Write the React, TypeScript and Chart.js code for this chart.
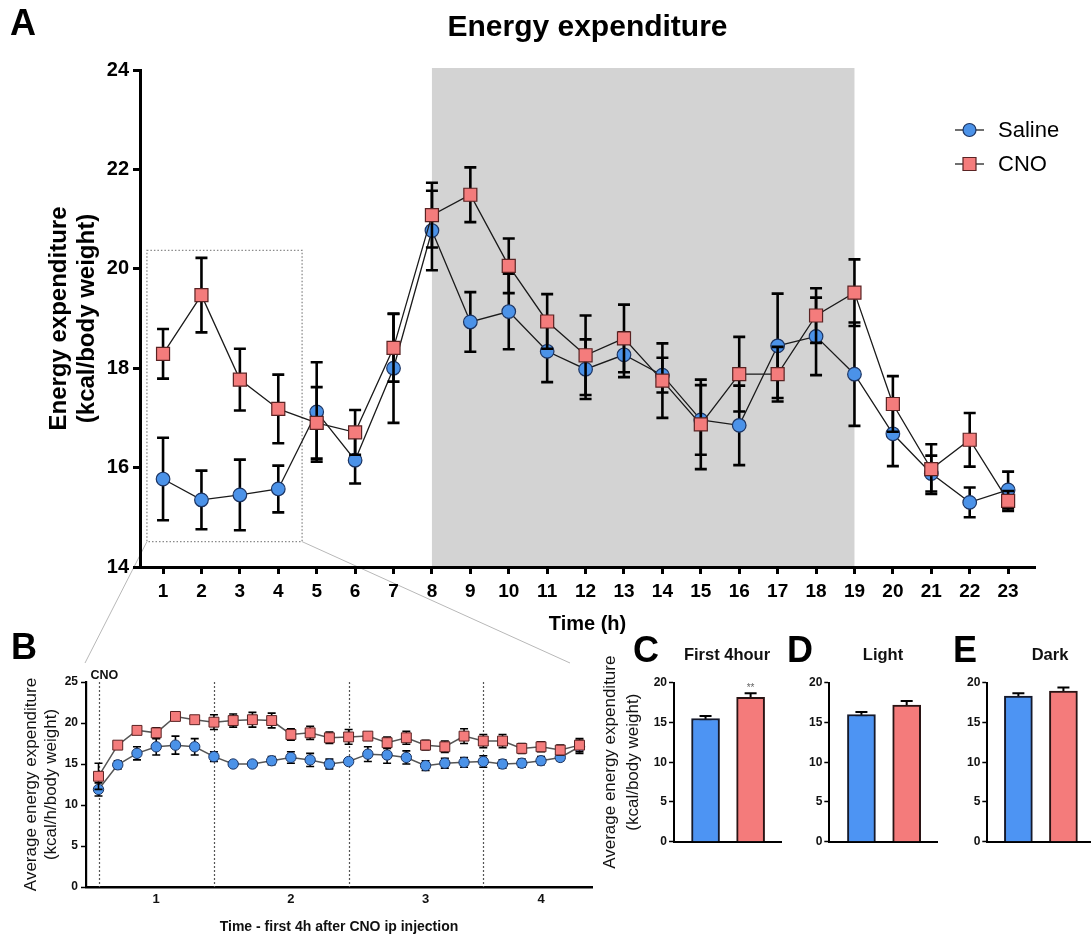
import React, { useEffect, useRef } from 'react';
import { Chart, registerables } from 'chart.js';

Chart.register(...registerables);

const FONT = "'Liberation Sans', Arial, Helvetica, sans-serif";
Chart.defaults.font.family = FONT;
Chart.defaults.color = '#000';

// ---------------- Panel A data ----------------
const hoursA = [1, 2, 3, 4, 5, 6, 7, 8, 9, 10, 11, 12, 13, 14, 15, 16, 17, 18, 19, 20, 21, 22, 23];
const yTicksA = [14, 16, 18, 20, 22, 24];
const salineA = [15.77, 15.35, 15.45, 15.57, 17.12, 16.15, 18.0, 20.77, 18.93, 19.14, 18.34, 17.98, 18.27, 17.86, 16.96, 16.85, 18.45, 18.64, 17.88, 16.68, 15.88, 15.3, 15.55];
const salineErrA = [0.83, 0.59, 0.71, 0.47, 1.0, 0.47, 1.1, 0.8, 0.6, 0.76, 0.62, 0.6, 0.45, 0.35, 0.7, 0.8, 1.05, 0.78, 1.04, 0.65, 0.36, 0.3, 0.37];
const cnoA = [18.29, 19.47, 17.77, 17.18, 16.9, 16.71, 18.41, 21.08, 21.49, 20.06, 18.94, 18.26, 18.6, 17.75, 16.87, 17.88, 17.88, 19.06, 19.52, 17.28, 15.97, 16.56, 15.33];
const cnoErrA = [0.5, 0.75, 0.62, 0.69, 0.72, 0.45, 0.68, 0.65, 0.55, 0.55, 0.55, 0.8, 0.68, 0.75, 0.9, 0.75, 0.55, 0.55, 0.67, 0.56, 0.5, 0.54, 0.2];
const darkPhaseA = [8, 19];
const zoomBoxA = [0.58, 4.62, 14.51, 20.37]; // x from, x to, y from, y to (data units)
const seriesNames = ['Saline', 'CNO'];

// ---------------- Panel B data ----------------
const slotsB = [0, 1, 2, 3, 4, 5, 6, 7, 8, 9, 10, 11, 12, 13, 14, 15, 16, 17, 18, 19, 20, 21, 22, 23, 24, 25];
const salineB = [11.9, 14.9, 16.3, 17.1, 17.3, 17.1, 15.9, 15.0, 15.0, 15.4, 15.8, 15.5, 15.0, 15.3, 16.2, 16.1, 15.8, 14.8, 15.1, 15.2, 15.3, 15.0, 15.1, 15.4, 15.8, 17.1];
const salineErrB = [0.8, 0.5, 0.8, 1.0, 1.1, 1.0, 0.6, 0.2, 0.3, 0.5, 0.7, 0.8, 0.6, 0.3, 0.9, 1.0, 0.8, 0.6, 0.6, 0.6, 0.7, 0.5, 0.5, 0.5, 0.4, 0.8];
const cnoB = [13.5, 17.3, 19.1, 18.8, 20.8, 20.4, 20.1, 20.3, 20.4, 20.3, 18.6, 18.8, 18.2, 18.3, 18.4, 17.6, 18.2, 17.3, 17.1, 18.4, 17.8, 17.8, 16.9, 17.1, 16.7, 17.3];
const cnoErrB = [1.6, 0.3, 0.4, 0.6, 0.2, 0.3, 0.9, 0.8, 0.9, 0.9, 0.7, 0.8, 0.7, 0.9, 0.3, 0.7, 0.8, 0.6, 0.7, 0.9, 0.8, 0.8, 0.6, 0.6, 0.6, 0.8];
const hourTicksB = [3, 10, 17, 23];
const hourLabelsB = ['1', '2', '3', '4'];
const dividersB = [0, 6, 13, 20];
const yTicksB = [0, 5, 10, 15, 20, 25];

// ---------------- Panels C-E data ----------------
const barPanels = ['C', 'D', 'E'];
const barTitles = ['First 4hour', 'Light', 'Dark'];
const barSaline = [15.5, 16.0, 18.32];
const barSalineErr = [0.3, 0.33, 0.34];
const barCno = [18.16, 17.19, 18.95];
const barCnoErr = [0.5, 0.5, 0.46];
const barSig = ['**', '', ''];
const yTicksBar = [0, 5, 10, 15, 20];

// ---------------- styles ----------------
const BLUE = '#4B92E8';
const BLUE_EDGE = '#1c3462';
const RED = '#F47C7C';
const RED_EDGE = '#5a2323';
const BAR_BLUE = '#4D94F3';
const BAR_RED = '#F47B7B';

const errorBarPlugin = {
  id: 'errorBars',
  beforeDatasetDraw(chart: any, args: any) {
    const ds: any = chart.data.datasets[args.index];
    if (!ds.errors) return;
    const meta = args.meta;
    const yScale = chart.scales[meta.yAxisID];
    const ctx = chart.ctx;
    const cap = ds.errCap || 10;
    ctx.save();
    ctx.strokeStyle = ds.errColor || '#000';
    ctx.lineWidth = ds.errWidth || 2;
    ctx.lineCap = 'butt';
    meta.data.forEach((el: any, i: number) => {
      const v = ds.data[i].y;
      const e = ds.errors[i];
      const yt = yScale.getPixelForValue(v + e);
      const yb = yScale.getPixelForValue(v - e);
      const x = el.x;
      ctx.beginPath();
      ctx.moveTo(x, yt);
      ctx.lineTo(x, yb);
      ctx.moveTo(x - cap / 2, yt);
      ctx.lineTo(x + cap / 2, yt);
      ctx.moveTo(x - cap / 2, yb);
      ctx.lineTo(x + cap / 2, yb);
      ctx.stroke();
    });
    ctx.restore();
  },
};

function drawLetter(ctx: any, letter: string, x: number, y: number) {
  ctx.save();
  ctx.font = `bold 36px ${FONT}`;
  ctx.fillStyle = '#000';
  ctx.textAlign = 'left';
  ctx.textBaseline = 'middle';
  ctx.fillText(letter, x, y);
  ctx.restore();
}

function drawMarker(ctx: any, style: string, x: number, y: number, half: number, fill: string, edge: string, lw: number) {
  ctx.save();
  ctx.fillStyle = fill;
  ctx.strokeStyle = edge;
  ctx.lineWidth = lw;
  ctx.beginPath();
  if (style === 'circle') ctx.arc(x, y, half, 0, Math.PI * 2);
  else ctx.rect(x - half, y - half, half * 2, half * 2);
  ctx.fill();
  ctx.stroke();
  ctx.restore();
}

const decorA = {
  id: 'decorA',
  beforeDraw(chart: any) {
    const { ctx, chartArea: ca, scales } = chart;
    const x = scales.x;
    const y = scales.y;
    ctx.save();
    const xs = x.getPixelForValue(darkPhaseA[0]);
    const xe = x.getPixelForValue(darkPhaseA[1]);
    ctx.fillStyle = '#d3d3d3';
    ctx.fillRect(xs, ca.top - 2, xe - xs, ca.bottom - ca.top + 2);
    const bx0 = x.getPixelForValue(zoomBoxA[0]);
    const bx1 = x.getPixelForValue(zoomBoxA[1]);
    const by0 = y.getPixelForValue(zoomBoxA[2]);
    const by1 = y.getPixelForValue(zoomBoxA[3]);
    ctx.strokeStyle = '#8a8a8a';
    ctx.lineWidth = 1.3;
    ctx.setLineDash([1.5, 2]);
    ctx.strokeRect(bx0, by1, bx1 - bx0, by0 - by1);
    ctx.setLineDash([]);
    ctx.strokeStyle = '#b8b8b8';
    ctx.lineWidth = 1;
    ctx.beginPath();
    ctx.moveTo(bx0, by0);
    ctx.lineTo(85, 663);
    ctx.moveTo(bx1, by0);
    ctx.lineTo(570, 663);
    ctx.stroke();
    ctx.restore();
  },
  afterDraw(chart: any) {
    const { ctx, chartArea: ca } = chart;
    drawLetter(ctx, 'A', 10, 25);
    ctx.save();
    ctx.font = `bold 30px ${FONT}`;
    ctx.fillStyle = '#000';
    ctx.textAlign = 'center';
    ctx.textBaseline = 'middle';
    ctx.fillText('Energy expenditure', (ca.left + ca.right) / 2, 28);
    // legend
    const entries = [
      { name: seriesNames[0], style: 'circle', fill: BLUE, edge: BLUE_EDGE, half: 6.5, y: 130 },
      { name: seriesNames[1], style: 'rect', fill: RED, edge: RED_EDGE, half: 6.5, y: 164 },
    ];
    entries.forEach((e) => {
      ctx.strokeStyle = '#222';
      ctx.lineWidth = 1.3;
      ctx.beginPath();
      ctx.moveTo(955, e.y);
      ctx.lineTo(984, e.y);
      ctx.stroke();
      drawMarker(ctx, e.style, 969.5, e.y, e.half, e.fill, e.edge, 1.2);
      ctx.font = `22px ${FONT}`;
      ctx.fillStyle = '#000';
      ctx.textAlign = 'left';
      ctx.textBaseline = 'middle';
      ctx.fillText(e.name, 998, e.y + 1);
    });
    ctx.restore();
  },
};

function makeA(): any {
  return {
    type: 'line',
    data: {
      datasets: [
        {
          label: seriesNames[1],
          data: hoursA.map((h, i) => ({ x: h, y: cnoA[i] })),
          errors: cnoErrA,
          errWidth: 2.6,
          errCap: 12,
          order: 1,
          borderColor: '#1a1a1a',
          borderWidth: 1.3,
          pointStyle: 'rect',
          pointRadius: 9.2,
          pointBackgroundColor: RED,
          pointBorderColor: RED_EDGE,
          pointBorderWidth: 1.2,
        },
        {
          label: seriesNames[0],
          data: hoursA.map((h, i) => ({ x: h, y: salineA[i] })),
          errors: salineErrA,
          errWidth: 2.6,
          errCap: 12,
          order: 2,
          borderColor: '#1a1a1a',
          borderWidth: 1.3,
          pointStyle: 'circle',
          pointRadius: 6.8,
          pointBackgroundColor: BLUE,
          pointBorderColor: BLUE_EDGE,
          pointBorderWidth: 1.2,
        },
      ],
    },
    options: {
      responsive: false,
      animation: false,
      layout: { padding: { left: 0, top: 70, right: 56, bottom: 43 } },
      plugins: { legend: { display: false }, tooltip: { enabled: false } },
      scales: {
        x: {
          type: 'linear',
          min: 0.4,
          max: 23.7,
          afterBuildTicks: (s: any) => {
            s.ticks = hoursA.map((v) => ({ value: v }));
          },
          afterFit: (s: any) => {
            s.height = 70;
          },
          grid: { display: true, drawOnChartArea: false, drawTicks: true, tickLength: 7, tickWidth: 3, tickColor: '#000' },
          border: { display: true, color: '#000', width: 3 },
          ticks: { font: { size: 19, weight: 'bold' }, color: '#000', padding: 6, maxRotation: 0, autoSkip: false },
          title: { display: true, text: 'Time (h)', font: { size: 20, weight: 'bold' }, color: '#000', padding: { top: 0, bottom: 1 } },
        },
        y: {
          type: 'linear',
          min: 14,
          max: 24,
          afterBuildTicks: (s: any) => {
            s.ticks = yTicksA.map((v) => ({ value: v }));
          },
          afterFit: (s: any) => {
            s.width = 140;
          },
          grid: { display: true, drawOnChartArea: false, drawTicks: true, tickLength: 7, tickWidth: 3, tickColor: '#000' },
          border: { display: true, color: '#000', width: 3 },
          ticks: { font: { size: 20, weight: 'bold' }, color: '#000', padding: 4 },
          title: {
            display: true,
            text: ['Energy expenditure', '(kcal/body weight)'],
            font: { size: 24, weight: 'bold', lineHeight: 1.15 },
            color: '#000',
            padding: { top: 46, bottom: 0 },
          },
        },
      },
    },
    plugins: [errorBarPlugin, decorA],
  };
}

const decorB = {
  id: 'decorB',
  beforeDatasetsDraw(chart: any) {
    const { ctx, chartArea: ca, scales } = chart;
    const x = scales.x;
    ctx.save();
    ctx.strokeStyle = '#555';
    ctx.lineWidth = 1.2;
    ctx.setLineDash([2, 2]);
    dividersB.forEach((d) => {
      const px = Math.round(x.getPixelForValue(d)) + 0.5;
      ctx.beginPath();
      ctx.moveTo(px, ca.top);
      ctx.lineTo(px, ca.bottom);
      ctx.stroke();
    });
    ctx.restore();
  },
  afterDraw(chart: any) {
    const { ctx, chartArea: ca, scales } = chart;
    drawLetter(ctx, 'B', 11, 19);
    ctx.save();
    ctx.font = `bold 12.5px ${FONT}`;
    ctx.fillStyle = '#111';
    ctx.textAlign = 'left';
    ctx.textBaseline = 'middle';
    ctx.fillText('CNO', scales.x.getPixelForValue(dividersB[0]) - 8, ca.top - 6);
    ctx.restore();
  },
};

function makeB(): any {
  return {
    type: 'line',
    data: {
      datasets: [
        {
          label: seriesNames[1],
          data: slotsB.map((s, i) => ({ x: s, y: cnoB[i] })),
          errors: cnoErrB,
          errWidth: 1.6,
          errCap: 8,
          order: 1,
          borderColor: '#555',
          borderWidth: 1.5,
          pointStyle: 'rect',
          pointRadius: 7,
          pointBackgroundColor: RED,
          pointBorderColor: RED_EDGE,
          pointBorderWidth: 1,
        },
        {
          label: seriesNames[0],
          data: slotsB.map((s, i) => ({ x: s, y: salineB[i] })),
          errors: salineErrB,
          errWidth: 1.6,
          errCap: 8,
          order: 2,
          borderColor: '#555',
          borderWidth: 1.5,
          pointStyle: 'circle',
          pointRadius: 5.2,
          pointBackgroundColor: BLUE,
          pointBorderColor: BLUE_EDGE,
          pointBorderWidth: 1,
        },
      ],
    },
    options: {
      responsive: false,
      animation: false,
      layout: { padding: { left: 0, top: 52, right: 7, bottom: 0 } },
      plugins: { legend: { display: false }, tooltip: { enabled: false } },
      scales: {
        x: {
          type: 'linear',
          min: -0.65,
          max: 25.65,
          afterBuildTicks: (s: any) => {
            s.ticks = hourTicksB.map((v) => ({ value: v }));
          },
          afterFit: (s: any) => {
            s.height = 49;
          },
          grid: { display: false, drawTicks: false },
          border: { display: true, color: '#000', width: 2.4 },
          ticks: {
            font: { size: 13, weight: 'bold' },
            color: '#111',
            padding: 5,
            maxRotation: 0,
            autoSkip: false,
            callback: (v: any) => hourLabelsB[hourTicksB.indexOf(v)],
          },
          title: {
            display: true,
            text: 'Time - first 4h after CNO ip injection',
            font: { size: 14, weight: 'bold' },
            color: '#111',
            padding: { top: 0, bottom: 0 },
          },
        },
        y: {
          type: 'linear',
          min: 0,
          max: 25,
          afterBuildTicks: (s: any) => {
            s.ticks = yTicksB.map((v) => ({ value: v }));
          },
          afterFit: (s: any) => {
            s.width = 86;
          },
          grid: { display: true, drawOnChartArea: false, drawTicks: true, tickLength: 5, tickWidth: 1.5, tickColor: '#000' },
          border: { display: true, color: '#000', width: 2.2 },
          ticks: { font: { size: 12, weight: 'bold' }, color: '#111', padding: 3 },
          title: {
            display: true,
            text: ['Average energy expenditure', '(kcal/h/body weight)'],
            font: { size: 17, lineHeight: 1.15 },
            color: '#111',
            padding: { top: 22, bottom: 0 },
          },
        },
      },
    },
    plugins: [errorBarPlugin, decorB],
  };
}

type BarGeom = { yW: number; padR: number; xMin: number; xMax: number; letterX: number; titleX: number };

const barGeoms: BarGeom[] = [
  { yW: 78, padR: 4.3, xMin: -0.7, xMax: 1.69, letterX: 37, titleX: 131 },
  { yW: 44.3, padR: 8, xMin: -0.71, xMax: 1.67, letterX: 2, titleX: 98 },
  { yW: 37.3, padR: 1, xMin: -0.69, xMax: 1.59, letterX: 3, titleX: 100 },
];

function makeBarDecor(i: number, g: BarGeom) {
  return {
    id: 'decorBar' + i,
    afterDraw(chart: any) {
      const { ctx, scales } = chart;
      drawLetter(ctx, barPanels[i], g.letterX, 22);
      ctx.save();
      ctx.font = `bold 16.5px ${FONT}`;
      ctx.fillStyle = '#111';
      ctx.textAlign = 'center';
      ctx.textBaseline = 'middle';
      ctx.fillText(barTitles[i], g.titleX, 25);
      if (barSig[i]) {
        ctx.font = `10px ${FONT}`;
        ctx.fillStyle = '#666';
        ctx.fillText(barSig[i], scales.x.getPixelForValue(1), scales.y.getPixelForValue(barCno[i] + barCnoErr[i]) - 5);
      }
      ctx.restore();
    },
  };
}

function makeBar(i: number): any {
  const g = barGeoms[i];
  return {
    type: 'bar',
    data: {
      datasets: [
        {
          label: seriesNames[0],
          data: [{ x: 0, y: barSaline[i] }],
          errors: [barSalineErr[i]],
          errWidth: 2,
          errCap: 12,
          backgroundColor: BAR_BLUE,
          borderColor: '#151a2c',
          borderWidth: 2,
          barThickness: 28,
          grouped: false,
        },
        {
          label: seriesNames[1],
          data: [{ x: 1, y: barCno[i] }],
          errors: [barCnoErr[i]],
          errWidth: 2,
          errCap: 12,
          backgroundColor: BAR_RED,
          borderColor: '#2a1414',
          borderWidth: 2,
          barThickness: 28,
          grouped: false,
        },
      ],
    },
    options: {
      responsive: false,
      animation: false,
      layout: { padding: { left: 0, top: 52.7, right: g.padR, bottom: 84.3 } },
      plugins: { legend: { display: false }, tooltip: { enabled: false } },
      scales: {
        x: {
          type: 'linear',
          offset: false,
          min: g.xMin,
          max: g.xMax,
          afterFit: (s: any) => {
            s.height = 10;
          },
          ticks: { display: false },
          grid: { display: false, drawTicks: false, offset: false },
          border: { display: true, color: '#000', width: 2 },
        },
        y: {
          type: 'linear',
          min: 0,
          max: 20,
          afterBuildTicks: (s: any) => {
            s.ticks = yTicksBar.map((v) => ({ value: v }));
          },
          afterFit: (s: any) => {
            s.width = g.yW;
          },
          grid: { display: true, drawOnChartArea: false, drawTicks: true, tickLength: 5, tickWidth: 1.5, tickColor: '#000' },
          border: { display: true, color: '#000', width: 2 },
          ticks: { font: { size: 12, weight: 'bold' }, color: '#111', padding: 2 },
          title:
            i === 0
              ? {
                  display: true,
                  text: ['Average energy expenditure', '(kcal/body weight)'],
                  font: { size: 17, lineHeight: 1.35 },
                  color: '#111',
                  padding: { top: 2.5, bottom: 0 },
                }
              : { display: false },
        },
      },
    },
    plugins: [errorBarPlugin, makeBarDecor(i, g)],
  };
}

function ChartBox(props: { left: number; top: number; width: number; height: number; make: () => any }) {
  const ref = useRef<HTMLCanvasElement>(null);
  useEffect(() => {
    const chart = new Chart(ref.current as HTMLCanvasElement, props.make());
    return () => chart.destroy();
  }, []);
  return (
    <canvas
      ref={ref}
      width={props.width}
      height={props.height}
      style={{ position: 'absolute', left: props.left, top: props.top, width: props.width, height: props.height }}
    />
  );
}

export default function App() {
  return (
    <div style={{ position: 'absolute', left: 0, top: 0, width: 1091, height: 936, overflow: 'hidden', background: '#fff' }}>
      <ChartBox left={0} top={0} width={1091} height={680} make={makeA} />
      <ChartBox left={0} top={630} width={600} height={306} make={makeB} />
      <ChartBox left={596} top={630} width={190} height={306} make={() => makeBar(0)} />
      <ChartBox left={785} top={630} width={160} height={306} make={() => makeBar(1)} />
      <ChartBox left={950} top={630} width={141} height={306} make={() => makeBar(2)} />
    </div>
  );
}
